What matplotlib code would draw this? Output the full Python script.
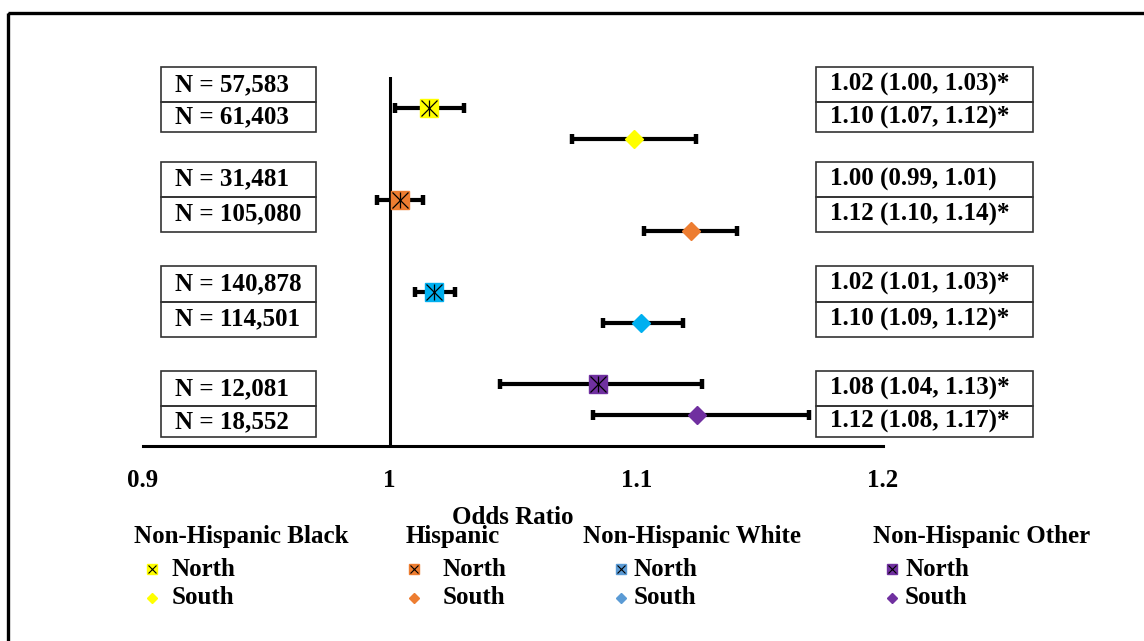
import matplotlib.pyplot as plt
from matplotlib.patches import Rectangle

# odds ratios by race/ethnicity, north vs south
groups = ["Non-Hispanic Black", "Hispanic", "Non-Hispanic White", "Non-Hispanic Other"]
n_north = [57583, 31481, 140878, 12081]
n_south = [61403, 105080, 114501, 18552]
or_north = [1.016, 1.004, 1.018, 1.0845]
lo_north = [1.002, 0.9949, 1.0104, 1.0447]
hi_north = [1.030, 1.0137, 1.0265, 1.1267]
or_south = [1.099, 1.122, 1.102, 1.1245]
lo_south = [1.074, 1.103, 1.0865, 1.0824]
hi_south = [1.124, 1.141, 1.119, 1.170]
sig_north = [True, False, True, True]
sig_south = [True, True, True, True]

plot_colors = ["#FFFF00", "#ED7D31", "#00B0F0", "#7030A0"]
legend_colors = ["#FFFF00", "#ED7D31", "#5B9BD5", "#7030A0"]

FONT = "Liberation Serif"
FS = 18

W, H = 1144, 641
fig = plt.figure(figsize=(W / 100, H / 100), dpi=100)

# main axes: rows 0..10, axis line sits at row 11
ax = fig.add_axes([143 / W, 1 - 445.7 / H, 740 / W, (445.7 - 77.3) / H])
ax.set_xlim(0.9, 1.2)
ax.set_ylim(11, -1)
for s in ["top", "right", "left"]:
    ax.spines[s].set_visible(False)
ax.spines["bottom"].set_linewidth(2.2)
ax.set_yticks([])
ax.set_xticks([0.9, 1.0, 1.1, 1.2])
ax.set_xticklabels(["0.9", "1", "1.1", "1.2"], fontfamily=FONT, fontweight="bold", fontsize=FS)
ax.tick_params(axis="x", length=0, pad=17)
ax.axvline(1, color="black", lw=2.2, zorder=1)


def fmt_ci(o, lo, hi, sig):
    return f"{o:.2f} ({lo:.2f}, {hi:.2f})" + ("*" if sig else "")


# table cell edges in row units
box_top = [-1.33, 1.75, 5.15, 8.57]
box_mid = [-0.19, 2.89, 6.31, 9.71]
box_bot = [0.79, 4.03, 7.45, 10.71]
left_x0, left_x1 = 0.9073, 0.970
right_x0, right_x1 = 1.173, 1.2608

for g in range(len(groups)):
    yn, ys = 3 * g, 3 * g + 1
    c = plot_colors[g]

    ax.errorbar([or_north[g]], [yn],
                xerr=[[or_north[g] - lo_north[g]], [hi_north[g] - or_north[g]]],
                fmt="none", ecolor="black", elinewidth=3, capsize=3.6, capthick=3.2, zorder=2)
    ax.errorbar([or_south[g]], [ys],
                xerr=[[or_south[g] - lo_south[g]], [hi_south[g] - or_south[g]]],
                fmt="none", ecolor="black", elinewidth=3, capsize=3.6, capthick=3.2, zorder=2)

    ax.plot([or_north[g]], [yn], marker="s", ms=12.5, mfc=c, mec=c, ls="none", zorder=3)
    ax.plot([or_north[g]], [yn], marker="x", ms=11, mec="black", mew=0.9, ls="none", zorder=4)
    ax.plot([or_north[g]], [yn], marker="|", ms=12, mec="black", mew=0.9, ls="none", zorder=4)
    ax.plot([or_south[g]], [ys], marker="D", ms=9.5, mfc=c, mec=c, ls="none", zorder=3)

    # N boxes on the left, OR (95% CI) boxes on the right
    for x0, x1, pad, texts in [
        (left_x0, left_x1, 0.0057, [f"N = {n_north[g]:,}", f"N = {n_south[g]:,}"]),
        (right_x0, right_x1, 0.0057, [fmt_ci(or_north[g], lo_north[g], hi_north[g], sig_north[g]),
                                      fmt_ci(or_south[g], lo_south[g], hi_south[g], sig_south[g])]),
    ]:
        cells = [(box_top[g], box_mid[g]), (box_mid[g], box_bot[g])]
        for (t, b), txt in zip(cells, texts):
            ax.add_patch(Rectangle((x0, t), x1 - x0, b - t, fill=False, ec="#333333",
                                   lw=1.2, clip_on=False, zorder=5))
            ax.text(x0 + pad, (t + b) / 2, txt,
                    fontfamily=FONT, fontweight="bold", fontsize=FS,
                    ha="left", va="center", clip_on=False)

# overlay in pixel units for frame, axis title and legend
ov = fig.add_axes([0, 0, 1, 1], zorder=-1)
ov.set_xlim(0, W)
ov.set_ylim(H, 0)
ov.axis("off")
ov.add_patch(Rectangle((8, 13), W + 50, H + 50, fill=False, ec="black", lw=2.4, clip_on=False))

ov.text(513, 517, "Odds Ratio", fontfamily=FONT, fontweight="bold", fontsize=FS,
        ha="center", va="center")

head_x = [134, 406, 582.7, 873.3]
mark_x = [152.3, 414.3, 621, 891.7]
lab_x = [171.7, 442.7, 633.3, 905]
for g in range(len(groups)):
    c = legend_colors[g]
    ov.text(head_x[g], 537, groups[g], fontfamily=FONT, fontweight="bold", fontsize=FS,
            ha="left", va="center")
    ov.plot([mark_x[g]], [569], marker="s", ms=6.5, mfc=c, mec=c, ls="none")
    ov.plot([mark_x[g]], [569], marker="x", ms=6, mec="black", mew=0.8, ls="none")
    ov.plot([mark_x[g]], [598], marker="D", ms=5, mfc=c, mec=c, ls="none")
    ov.text(lab_x[g], 569, "North", fontfamily=FONT, fontweight="bold", fontsize=FS,
            ha="left", va="center")
    ov.text(lab_x[g], 598, "South", fontfamily=FONT, fontweight="bold", fontsize=FS,
            ha="left", va="center")

fig.savefig("out.png", dpi=100)
